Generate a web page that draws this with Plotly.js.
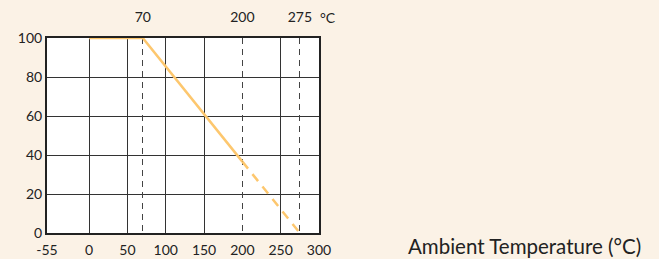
<!DOCTYPE html>
<html><head><meta charset="utf-8">
<script src="https://cdn.plot.ly/plotly-3.0.1.min.js"></script>
<style>html,body{margin:0;padding:0;background:#FBF2E6;}</style>
</head><body>
<div id="chart" style="width:659px;height:259px;"></div>
<script>
// Derating curve data
var tempSolid = [0, 70, 200];
var loadSolid = [100, 100, 36.6];
var tempDash = [200, 275];
var loadDash = [36.6, 0];

var xTickVals = [-55, 0, 50, 100, 150, 200, 250, 300];
var xTickText = ['-55', '0', '50', '100', '150', '200', '250', '300'];
var xGridVals = [0, 50, 100, 150, 250];
var topTickVals = [70, 200, 275];
var topTickText = ['70', '200', '275'];
var yTickVals = [0, 20, 40, 60, 80, 100];
var axisLabel = 'Ambient Temperature (°C)';
var unitLabel = '°C';

var FONT = 'Lato, "Open Sans", sans-serif';
var lineColor = '#FDC76E';
var xr = [-55, 300];

var data = [
  {x: tempSolid, y: loadSolid, mode: 'lines', line: {color: lineColor, width: 2.5}, hoverinfo: 'skip', showlegend: false, xaxis: 'x', yaxis: 'y'},
  {x: tempDash, y: loadDash, mode: 'lines', line: {color: lineColor, width: 2.5, dash: '9px,7px'}, hoverinfo: 'skip', showlegend: false, xaxis: 'x', yaxis: 'y'},
  {x: [xr[0]], y: [0], mode: 'markers', marker: {opacity: 0}, hoverinfo: 'skip', showlegend: false, xaxis: 'x2', yaxis: 'y'},
  {x: [xr[0]], y: [0], mode: 'markers', marker: {opacity: 0}, hoverinfo: 'skip', showlegend: false, xaxis: 'x3', yaxis: 'y'}
];

var tf = {family: FONT, size: 14, color: '#222'};

var layout = {
  width: 659, height: 259,
  margin: {l: 47, r: 340, t: 38, b: 26},
  paper_bgcolor: '#FBF2E6',
  plot_bgcolor: '#FFFFFF',
  font: {family: FONT, size: 14, color: '#222'},
  xaxis: {
    range: xr, tickmode: 'array', tickvals: xTickVals, ticktext: xTickText,
    showgrid: false, zeroline: false, ticks: '', ticklabelstandoff: 3,
    showline: true, linecolor: '#222', linewidth: 2, mirror: true,
    tickfont: tf
  },
  xaxis3: {
    range: xr, overlaying: 'x', tickmode: 'array', tickvals: xGridVals,
    showticklabels: false, showgrid: true, gridcolor: '#333', gridwidth: 1, zeroline: false, ticks: ''
  },
  xaxis2: {
    range: xr, overlaying: 'x', side: 'top', tickmode: 'array', tickvals: topTickVals, ticktext: topTickText,
    showgrid: true, gridcolor: '#444', gridwidth: 1, griddash: '6px,5px', zeroline: false, ticks: '',
    ticklabelstandoff: 12,
    tickfont: tf
  },
  yaxis: {
    range: [0, 100], tickmode: 'array', tickvals: yTickVals,
    showgrid: true, gridcolor: '#333', gridwidth: 1, zeroline: false, ticks: '',
    showline: true, linecolor: '#222', linewidth: 2, mirror: true,
    tickfont: tf
  },
  annotations: [
    {text: unitLabel, xref: 'x', yref: 'paper', x: 275, y: 1, xshift: 18, yshift: 21, xanchor: 'left', yanchor: 'middle', showarrow: false, font: tf},
    {text: axisLabel, xref: 'paper', yref: 'paper', x: 1, xshift: 324, y: 0, yshift: -13, xanchor: 'right', yanchor: 'middle', showarrow: false, font: {family: FONT, size: 20.5, color: '#222'}}
  ]
};

Plotly.newPlot('chart', data, layout, {displayModeBar: false, staticPlot: true});
</script>
</body></html>
